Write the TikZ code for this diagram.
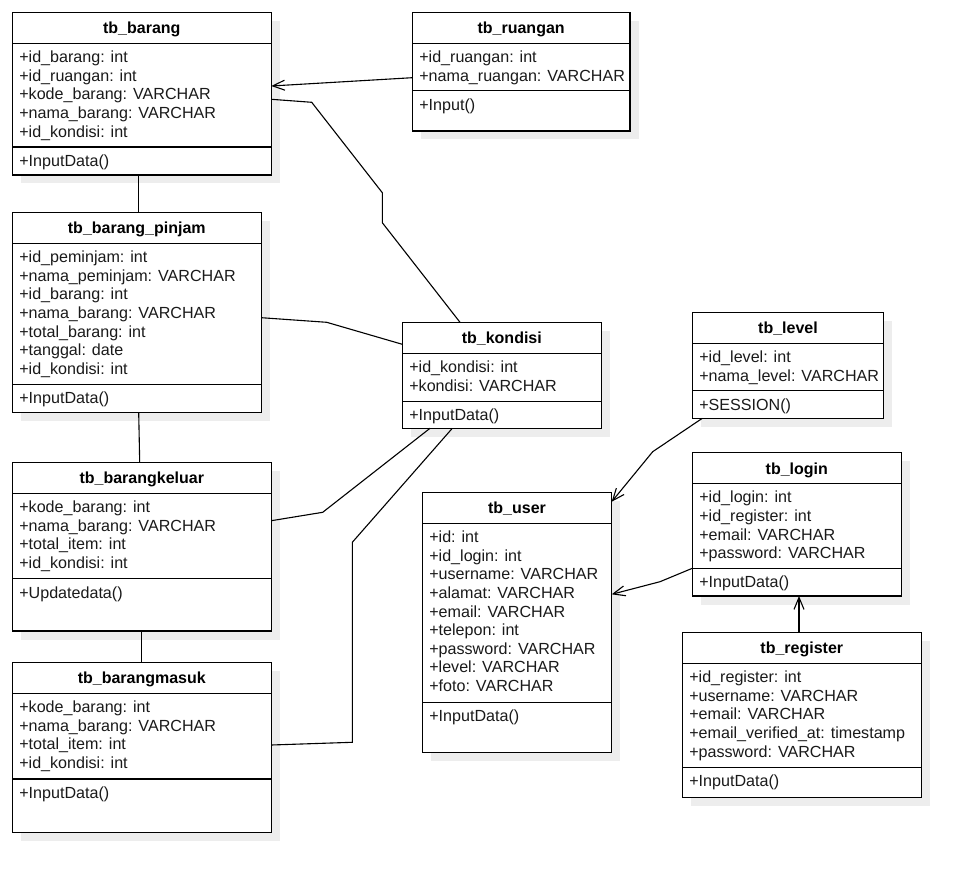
\documentclass[tikz,border=0pt]{standalone}
\usepackage{fontspec}
\setmainfont{Liberation Sans}
\usetikzlibrary{arrows.meta}
\definecolor{shadowc}{HTML}{EDEDED}
\definecolor{txtc}{HTML}{1A1A1A}
\tikzset{
  boxline/.style={line width=1.2pt, draw=black},
  classbox/.style={draw=black, line width=1.2pt, fill=white, inner sep=0pt, outer sep=0pt, rectangle},
  titletext/.style={font=\fontsize{16}{18}\selectfont\bfseries, inner sep=0pt, text=black},
  attrtext/.style={font=\fontsize{16.1}{18.6}\selectfont, inner sep=0pt, text=txtc},
  conn/.style={line width=1.1pt, draw=black},
  arr/.style={conn, -{Straight Barb[length=12pt,width=10pt,line width=1.1pt]}},
}
% name, left, top, right, sep, bottom, title, attrs, methods
\newcommand\umlclass[9]{%
  \fill[shadowc] (#2+8.5,#3+8.5) rectangle (#4+8.5,#6+8.5);
  \node[classbox, minimum width={#4-#2}, minimum height={#6-#3}, anchor=north west] (#1) at (#2,#3) {};
  \draw[boxline] (#2,#3+31) -- (#4,#3+31);
  \draw[boxline] (#2,#5) -- (#4,#5);
  \node[titletext, anchor=base] (#1-t) at ({(#2+#4)/2},#3+21.5) {#7};
  \foreach \l [count=\i] in {#8} {
    \node[attrtext, anchor=base west] (#1-a\i) at (#2+6.8,#3+31+19.4+\i*18.6-18.6) {\l};
  }
  \foreach \l [count=\i] in {#9} {
    \node[attrtext, anchor=base west] (#1-m\i) at (#2+6.8,#5+19.4+\i*18.6-18.6) {\l};
  }
}
\begin{document}
\begin{tikzpicture}[x=1pt,y=-1pt]
\useasboundingbox (0,0) rectangle (971,882);
\fill[white] (0,0) rectangle (971,882);

\umlclass{barang}{12.3}{12.3}{271.3}{147}{175}{tb\_barang}
  {+id\_barang: int,+id\_ruangan: int,+kode\_barang: VARCHAR,+nama\_barang: VARCHAR,+id\_kondisi: int}
  {+InputData()}
\umlclass{ruangan}{412.3}{12.3}{630}{90.7}{131}{tb\_ruangan}
  {+id\_ruangan: int,+nama\_ruangan: VARCHAR}
  {+Input()}
\umlclass{pinjam}{12.3}{212.3}{261.3}{384.3}{412.7}{tb\_barang\_pinjam}
  {+id\_peminjam: int,+nama\_peminjam: VARCHAR,+id\_barang: int,+nama\_barang: VARCHAR,+total\_barang: int,+tanggal: date,+id\_kondisi: int}
  {+InputData()}
\umlclass{kondisi}{402.3}{322.3}{601.3}{401.3}{428.3}{tb\_kondisi}
  {+id\_kondisi: int,+kondisi: VARCHAR}
  {+InputData()}
\umlclass{level}{692.3}{312.3}{883.7}{390.7}{418.3}{tb\_level}
  {+id\_level: int,+nama\_level: VARCHAR}
  {+SESSION()}
\umlclass{login}{692.3}{452.5}{901.3}{568.3}{596}{tb\_login}
  {+id\_login: int,+id\_register: int,+email: VARCHAR,+password: VARCHAR}
  {+InputData()}
\umlclass{register}{682.3}{632.3}{921.3}{767.3}{797.3}{tb\_register}
  {+id\_register: int,+username: VARCHAR,+email: VARCHAR,+email\_verified\_at: timestamp,+password: VARCHAR}
  {+InputData()}
\umlclass{user}{422.3}{492.3}{611.7}{702.3}{752.7}{tb\_user}
  {+id: int,+id\_login: int,+username: VARCHAR,+alamat: VARCHAR,+email: VARCHAR,+telepon: int,+password: VARCHAR,+level: VARCHAR,+foto: VARCHAR}
  {+InputData()}
\umlclass{keluar}{12.3}{462.3}{271.3}{578.7}{631}{tb\_barangkeluar}
  {+kode\_barang: int,+nama\_barang: VARCHAR,+total\_item: int,+id\_kondisi: int}
  {+Updatedata()}
\umlclass{masuk}{12.3}{662.3}{271.3}{779}{832.3}{tb\_barangmasuk}
  {+kode\_barang: int,+nama\_barang: VARCHAR,+total\_item: int,+id\_kondisi: int}
  {+InputData()}

% connectors
\draw[arr] (ruangan.west |- 0,77.7) -- (barang.east |- 0,86);
\draw[conn] (barang.east |- 0,99.3) -- (311.7,102.3) -- (382.3,192.7) -- (382.3,222.7) -- (kondisi.north -| 460,0);
\draw[conn] (barang.south -| 138.7,0) -- (pinjam.north -| 138.7,0);
\draw[conn] (pinjam.east |- 0,317.7) -- (326.7,322.3) -- (kondisi.west |- 0,344.3);
\draw[conn] (pinjam.south -| 138.7,0) -- (keluar.north -| 139.7,0);
\draw[conn] (keluar.east |- 0,520.7) -- (322.7,512.3) -- (kondisi.south -| 430,0);
\draw[conn] (keluar.south -| 141.3,0) -- (masuk.north -| 141.3,0);
\draw[conn] (masuk.east |- 0,745) -- (352.3,742.3) -- (352.3,542.3) -- (kondisi.south -| 452.3,0);
\draw[arr] (level.south -| 702.3,0) -- (652.7,451.7) -- (user.east |- 0,501.7);
\draw[arr] (login.west |- 0,568.3) -- (660,581.7) -- (user.east |- 0,594.3);
\draw[arr] (register.north -| 799,0) -- (login.south -| 799,0);
\end{tikzpicture}
\end{document}
